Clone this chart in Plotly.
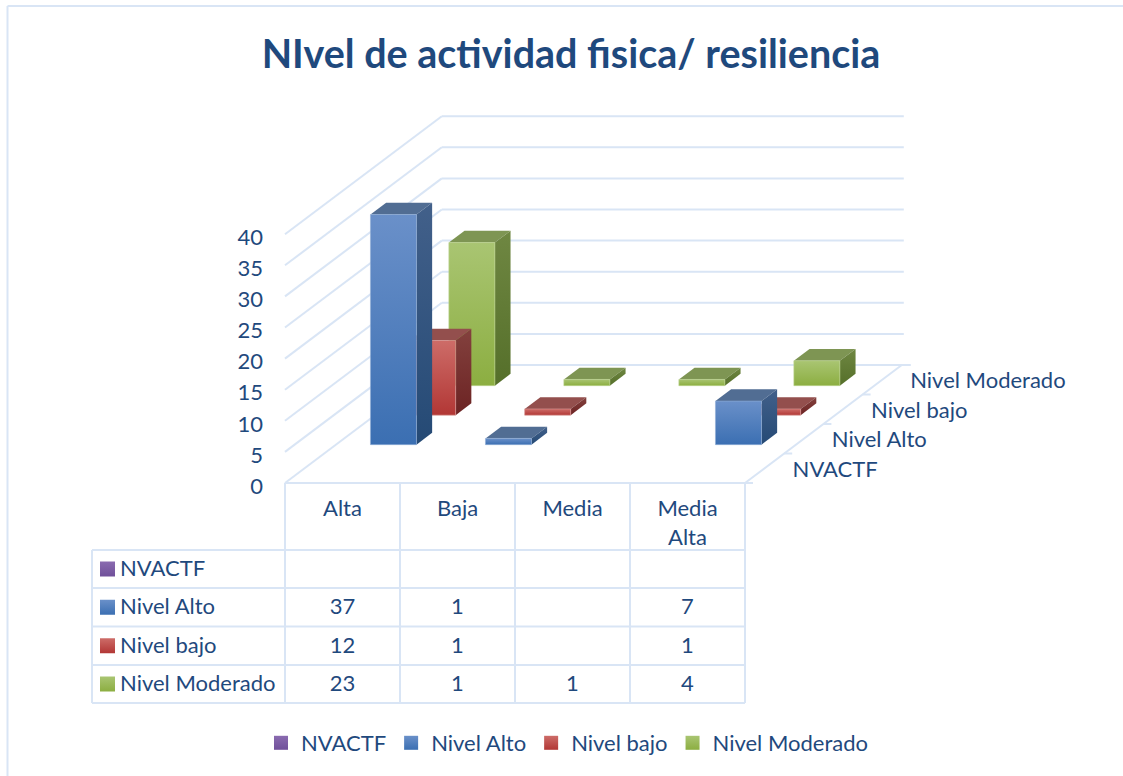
import plotly.graph_objects as go

TITLE = "NIvel de actividad fisica/ resiliencia"
categories = ["Alta", "Baja", "Media", "Media Alta"]
category_ticks = ["Alta", "Baja", "Media", "Media<br>Alta"]
series_names = ["NVACTF", "Nivel Alto", "Nivel bajo", "Nivel Moderado"]
nvactf = [None, None, None, None]
nivel_alto = [37, 1, None, 7]
nivel_bajo = [12, 1, None, 1]
nivel_moderado = [23, 1, 1, 4]
series_values = [nvactf, nivel_alto, nivel_bajo, nivel_moderado]
value_ticks = [0, 5, 10, 15, 20, 25, 30, 35, 40]

TEXT = "#1f497d"
GRID = "#d9e5f5"
FONT = "Lato"
FS = 22
# front top, front bottom, top face, side top, side bottom, edge
palette = [
    ("#8a6bb0", "#70509a", "#6b5586", "#5d4778", "#4a3566", "#a48fc4"),
    ("#6a90c9", "#3b6fb2", "#516d93", "#42608a", "#254a75", "rgba(143,173,214,0.6)"),
    ("#cd6c68", "#b23735", "#934f4d", "#83413e", "#6c2323", "rgba(217,154,151,0.6)"),
    ("#a9c572", "#8cae41", "#7e9553", "#6f8742", "#556f2a", "rgba(188,211,143,0.6)"),
]

W, H = 1123, 776
X0, UX = 342.5, 115.0      # pixel of category 0 and pixels per category
Y0, UY = 483.0, 6.22       # pixel of value 0 and pixels per value unit
SLOT_X = 39.2 / UX         # depth step per series, in x units
SLOT_Y = 29.5 / UY         # depth step per series, in value units
BAR_W = 0.4
GAP = 0.3
BAR_D = 0.4


def ax(px):
    return (px - X0) / UX


def ay(py):
    return (Y0 - py) / UY


fig = go.Figure()


def line(xs, ys, color=GRID, width=2):
    fig.add_trace(go.Scatter(x=xs, y=ys, mode="lines", line=dict(color=color, width=width),
                             hoverinfo="skip", showlegend=False))


def segments(pairs):
    xs, ys = [], []
    for (x1, y1), (x2, y2) in pairs:
        xs += [x1, x2, None]
        ys += [y1, y2, None]
    line(xs, ys)


def text(xs, ys, labels, pos="middle center", color=TEXT, size=FS):
    fig.add_trace(go.Scatter(x=xs, y=ys, text=labels, mode="text", textposition=pos,
                             textfont=dict(family=FONT, size=size, color=color),
                             hoverinfo="skip", showlegend=False))


# chart frame
segments([((ax(7.5), ay(776)), (ax(7.5), ay(6))), ((ax(7.5), ay(6)), (ax(1123), ay(6)))])

# walls and floor
left = ax(285)
right = ax(745)
n = len(series_names)
depth_x, depth_y = n * SLOT_X, n * SLOT_Y
pairs = []
for v in value_ticks:
    pairs.append(((left, v), (left + depth_x, v + depth_y)))
    end = right + depth_x + ((9 if v == 0 else 2) / UX)
    pairs.append(((left + depth_x, v + depth_y), (end, v + depth_y)))
pairs.append(((right, 0), (right + depth_x, depth_y)))
for i in range(n):
    pairs.append(((right + i * SLOT_X, i * SLOT_Y), (right + i * SLOT_X + 8 / UX, i * SLOT_Y)))
segments(pairs)

# table grid
table_rows = [483, 550, 588, 626.5, 665, 703]
table_cols = [285, 400, 515, 630, 745]
pairs = [((ax(285), ay(483)), (ax(745), ay(483)))]
for r in table_rows[1:]:
    pairs.append(((ax(92), ay(r)), (ax(745), ay(r))))
for c in table_cols:
    pairs.append(((ax(c), ay(483)), (ax(c), ay(703))))
pairs.append(((ax(92), ay(550)), (ax(92), ay(703))))
segments(pairs)


def face(xs, ys, fill=None, grad=None, edge=None):
    kw = dict(fillcolor=fill) if fill else dict(
        fillgradient=dict(type="vertical", colorscale=[[0, grad[1]], [1, grad[0]]]))
    fig.add_trace(go.Scatter(x=xs, y=ys, mode="lines", fill="toself",
                             line=dict(color=edge or "rgba(0,0,0,0)", width=1),
                             hoverinfo="skip", showlegend=False, **kw))


# bars, painted from the back slot to the front slot
for s in range(n - 1, -1, -1):
    c = palette[s]
    for i, v in enumerate(series_values[s]):
        if v is None:
            continue
        x1 = i - BAR_W / 2 + (s + GAP) * SLOT_X
        x2 = x1 + BAR_W
        y1 = (s + GAP) * SLOT_Y
        y2 = y1 + v
        dx, dy = BAR_D * SLOT_X, BAR_D * SLOT_Y
        face([x1, x2, x2 + dx, x1 + dx, x1], [y2, y2, y2 + dy, y2 + dy, y2], fill=c[2])
        face([x2, x2 + dx, x2 + dx, x2, x2], [y1, y1 + dy, y2 + dy, y2, y1], grad=(c[3], c[4]))
        face([x1, x2, x2, x1, x1], [y1, y1, y2, y2, y1], grad=(c[0], c[1]), edge=c[5])

# depth axis labels
text([right + (i + 0.5) * SLOT_X + 28 / UX for i in range(n)],
     [(i + 0.5) * SLOT_Y - 0.5 for i in range(n)],
     series_names, pos="middle right")

# table contents
row_mid = [(table_rows[k + 1] + table_rows[k + 2]) / 2 for k in range(n)]
for s in range(n):
    c = palette[s]
    fig.add_trace(go.Scatter(x=[ax(107.5)], y=[ay(row_mid[s])], mode="markers",
                             marker=dict(symbol="square", size=15, color=c[0],
                                         gradient=dict(type="vertical", color=c[1]),
                                         line=dict(width=0)),
                             hoverinfo="skip", showlegend=False))
text([ax(120)] * n, [ay(m + 1.5) for m in row_mid], series_names, pos="middle right")
for s in range(n):
    xs = [i for i, v in enumerate(series_values[s]) if v is not None]
    vals = [str(v) for v in series_values[s] if v is not None]
    if xs:
        text(xs, [ay(row_mid[s] + 1.5)] * len(xs), vals)

# legend entries
for s in range(n):
    c = palette[s]
    fig.add_trace(go.Scatter(x=[None], y=[None], mode="markers", name=series_names[s],
                             marker=dict(symbol="square", size=14, color=c[0],
                                         gradient=dict(type="vertical", color=c[1]),
                                         line=dict(width=0))))

fig.update_layout(
    width=W, height=H, margin=dict(l=0, r=0, t=0, b=0), autosize=False,
    paper_bgcolor="white", plot_bgcolor="white",
    font=dict(family=FONT, size=FS, color=TEXT),
    title=dict(text=TITLE, x=571 / W, xanchor="center", y=1 - 54 / H, yanchor="middle",
               font=dict(family=FONT, size=39.5, color=TEXT, weight="bold")),
    xaxis=dict(range=[ax(0), ax(W)], tickvals=list(range(len(categories))), ticktext=category_ticks,
               showgrid=False, zeroline=False, showline=False, ticks="", anchor="free",
               position=1 - 493 / H, side="bottom", domain=[0, 1]),
    yaxis=dict(range=[ay(H), ay(0)], tickvals=value_ticks, showgrid=False, zeroline=False,
               showline=False, ticks="", anchor="free", position=263 / W, side="left", domain=[0, 1],
               ticklabelshift=3),
    legend=dict(orientation="h", x=261 / W, xanchor="left", y=1 - 722 / H, yanchor="top",
                font=dict(family=FONT, size=FS, color=TEXT), bgcolor="rgba(0,0,0,0)", traceorder="normal"),
)

fig.write_html("out.html", config={"displayModeBar": False},
               post_script="document.body.style.margin='0';document.body.style.overflow='hidden';")
